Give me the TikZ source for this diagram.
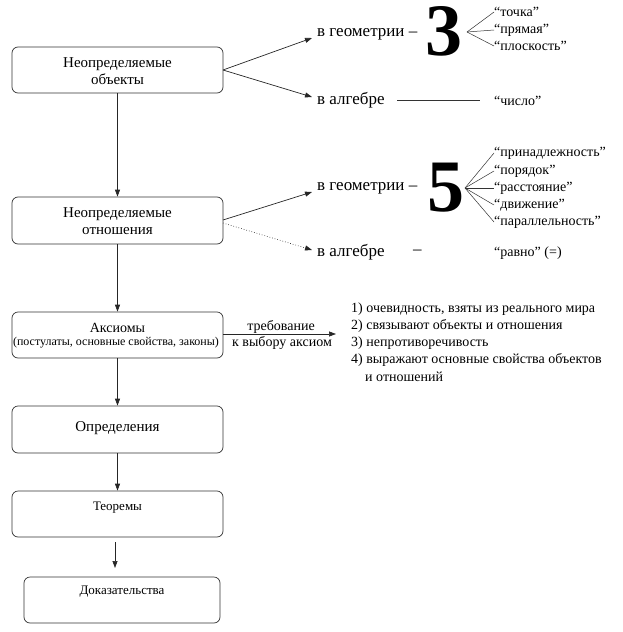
\documentclass[tikz,border=0pt]{standalone}
\usepackage{fontspec}
\setmainfont{Liberation Serif}
\usetikzlibrary{arrows.meta}
\begin{document}
\begin{tikzpicture}[x=1pt,y=-1pt,
  box/.style={draw=black!80, line width=0.7pt, rounded corners=6pt, inner sep=0pt, align=center},
  btxt/.style={font=\fontsize{15}{17}\selectfont, align=center, inner sep=0pt},
  stxt/.style={font=\fontsize{13}{15}\selectfont, align=center, inner sep=0pt},
  rtxt/.style={font=\fontsize{17}{19}\selectfont, anchor=west, inner sep=0pt},
  qtxt/.style={font=\fontsize{14}{16}\selectfont, anchor=west, inner sep=0pt},
  ltxt/.style={font=\fontsize{14}{16}\selectfont, anchor=west, inner sep=0pt},
  big/.style={font=\fontsize{74}{74}\selectfont\bfseries, inner sep=0pt, text height=48pt, text depth=0pt},
  arr/.style={-{Triangle[length=7pt,width=5pt]}, line width=0.7pt, draw=black!85},
  fan/.style={line width=0.5pt, draw=black!80}
]
\useasboundingbox (0,0) rectangle (623,632);
% left boxes
\node[box, minimum width=211pt, minimum height=46pt] (b1) at (117.5,70) {};
\node[btxt] (t1) at (117.5,71) {Неопределяемые\\объекты};
\node[box, minimum width=211pt, minimum height=47pt] (b2) at (117.5,220.5) {};
\node[btxt] (t2) at (117.5,221) {Неопределяемые\\отношения};
\node[box, minimum width=211pt, minimum height=46pt] (b3) at (117.5,335) {};
\node[font=\fontsize{14}{16}\selectfont, inner sep=0pt] (t3) at (117.5,328) {Аксиомы};
\node[font=\fontsize{12}{14}\selectfont, inner sep=0pt] (t3b) at (116,343) {(постулаты, основные свойства, законы)};
\node[box, minimum width=211pt, minimum height=47pt] (b4) at (117.5,429.5) {};
\node[btxt] (t4) at (117.5,428) {Определения};
\node[box, minimum width=211pt, minimum height=46pt] (b5) at (117.5,514) {};
\node[stxt] (t5) at (117.5,508) {Теоремы};
\node[box, minimum width=196pt, minimum height=46pt] (b6) at (122,600) {};
\node[stxt] (t6) at (122,592) {Доказательства};
% vertical arrows
\draw[arr] (b1.south) -- (b2.north);
\draw[arr] (b2.south) -- (b3.north);
\draw[arr] (b3.south) -- (b4.north);
\draw[arr] (b4.south) -- (b5.north);
\coordinate (p5a) at (115,542);
\coordinate (p5b) at (115,568);
\draw[arr] (p5a) -- (p5b);
% objects
\coordinate (o1) at (223,70);
\node[rtxt] (g1) at (317,34) {в геометрии –};
\node[big] (n3) at (444,31) {3};
\node[rtxt] (a1) at (317,100) {в алгебре};
\coordinate (g1in) at (312,38);
\coordinate (a1in) at (312,97);
\draw[arr] (o1) -- (g1in);
\draw[arr] (o1) -- (a1in);
\coordinate (f1) at (467,32);
\node[qtxt] (q11) at (494,12) {“точка”};
\node[qtxt] (q12) at (494,30) {“прямая”};
\node[qtxt] (q13) at (494,46) {“плоскость”};
\draw[fan] (f1) -- (q11.west);
\draw[fan] (f1) -- (q12.west);
\draw[fan] (f1) -- (q13.west);
\coordinate (l1a) at (397,100);
\coordinate (l1b) at (480,100);
\draw[fan] (l1a) -- (l1b);
\node[qtxt] (q14) at (494,101) {“число”};
% relations
\coordinate (o2a) at (223,220);
\coordinate (o2b) at (223,223);
\node[rtxt] (g2) at (317,188) {в геометрии –};
\node[big] (n5) at (446,187) {5};
\node[rtxt] (a2) at (317,252) {в алгебре};
\node[rtxt] (d2) at (413,252) {–};
\coordinate (g2in) at (312,192);
\coordinate (a2in) at (312,250);
\draw[arr] (o2a) -- (g2in);
\draw[arr, dotted, line width=0.6pt] (o2b) -- (a2in);
\coordinate (f2) at (465,188);
\node[qtxt] (q21) at (494,153) {“принадлежность”};
\node[qtxt] (q22) at (494,171) {“порядок”};
\node[qtxt] (q23) at (494,188) {“расстояние”};
\node[qtxt] (q24) at (494,205) {“движение”};
\node[qtxt] (q25) at (494,222) {“параллельность”};
\foreach \q in {q21,q22,q23,q24,q25} \draw[fan] (f2) -- (\q.west);
\node[qtxt] (q26) at (494,253) {“равно” (=)};
% axioms requirements
\coordinate (ax2) at (336,334);
\draw[arr] (b3.east |- ax2) -- (ax2);
\node[stxt, font=\fontsize{14}{16}\selectfont] (r1) at (281,327) {требование};
\node[stxt, font=\fontsize{14}{16}\selectfont] (r2) at (282,343) {к выбору аксиом};
\node[ltxt] (l1) at (351,309) {1) очевидность, взяты из реального мира};
\node[ltxt] (l2) at (351,326) {2) связывают объекты и отношения};
\node[ltxt] (l3) at (351,343) {3) непротиворечивость};
\node[ltxt] (l4) at (351,360) {4) выражают основные свойства объектов};
\node[ltxt] (l5) at (365,377) {и отношений};
\end{tikzpicture}
\end{document}
